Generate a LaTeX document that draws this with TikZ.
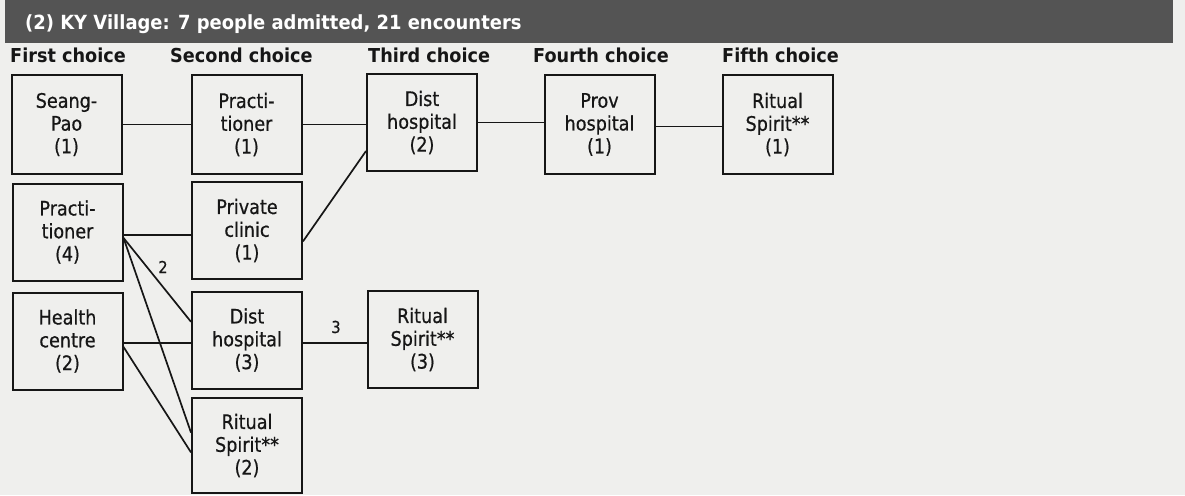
\documentclass[tikz,border=0pt]{standalone}
\usepackage{fontspec}
\setmainfont{DejaVu Sans}
\newfontfamily\boxfont[FakeStretch=0.88,FakeBold=0.6]{DejaVu Sans}
\newfontfamily\headfont[FakeStretch=0.92]{DejaVu Sans}
\definecolor{paper}{RGB}{239,239,237}
\definecolor{barfill}{RGB}{84,84,84}
\definecolor{ink}{RGB}{22,22,22}

\tikzset{
  choice/.style={draw=ink, line width=2pt, minimum width=110pt, minimum height=97pt,
    inner sep=0pt, align=center, text=ink, font=\boxfont\fontsize{20}{22.8}\selectfont},
  heading/.style={anchor=base west, inner sep=0pt, text=ink,
    font=\headfont\bfseries\fontsize{19.2}{21}\selectfont},
  link/.style={draw=ink, line width=1.7pt},
  count/.style={inner sep=0pt, text=ink, font=\boxfont\fontsize{16.5}{18}\selectfont}
}

\begin{document}
\begin{tikzpicture}[x=1pt, y=-1pt]
  \useasboundingbox (0,0) rectangle (1185,495);
  \fill[paper] (0,0) rectangle (1185,495);

  % title bar
  \fill[barfill] (5,0) rectangle (1173,43);
  \node[anchor=base west, inner sep=0pt, text=white,
        font=\headfont\bfseries\fontsize{19.5}{21}\selectfont] (title) at (25,30)
        {(2) KY Village: 7 people admitted, 21 encounters};

  % column headings
  \node[heading] (h1) at (10,63)  {First choice};
  \node[heading] (h2) at (170,63) {Second choice};
  \node[heading] (h3) at (368,63) {Third choice};
  \node[heading] (h4) at (533,63) {Fourth choice};
  \node[heading] (h5) at (722,63) {Fifth choice};

  % first row
  \node[choice, minimum height=99pt] (sp)  at (66.5,124.5)  {Seang-\\Pao\\(1)};
  \node[choice, minimum height=99pt] (pr1) at (246.5,124.5) {Practi-\\tioner\\(1)};
  \node[choice, minimum height=97pt] (dh2) at (422,122.5) {Dist\\hospital\\(2)};
  \node[choice, minimum height=99pt] (ph)  at (599.5,124.5) {Prov\\hospital\\(1)};
  \node[choice, minimum height=99pt] (rs1) at (777.5,124.5) {Ritual\\Spirit**\\(1)};

  % lower rows
  \node[choice] (pr4) at (67.5,232)  {Practi-\\tioner\\(4)};
  \node[choice] (pc)  at (247,230.5) {Private\\clinic\\(1)};
  \node[choice] (hc)  at (67.5,341)  {Health\\centre\\(2)};
  \node[choice] (dh3) at (247,340)   {Dist\\hospital\\(3)};
  \node[choice] (rs3) at (422.5,339.5) {Ritual\\Spirit**\\(3)};
  \node[choice, minimum height=95pt] (rs2) at (247,445.5) {Ritual\\Spirit**\\(2)};

  % connectors, first row
  \draw[link] (sp.east)  -- (pr1.west);
  \draw[link] (pr1.east) -- (pr1.east -| dh2.west);
  \draw[link] (dh2.east) -- (dh2.east -| ph.west);
  \draw[link] (ph.-2)  -- (ph.-2 -| rs1.west);

  % connectors, lower rows
  \draw[link] (pc.-11) -- (dh2.-153);
  \draw[link] (pr4.-3) -- (pr4.-3 -| pc.west);
  \draw[link] (pr4.-6) -- (dh3.162);
  \draw[link] (pr4.-6) -- (rs2.167);
  \draw[link] (hc.-2) -- (hc.-2 -| dh3.west);
  \draw[link] (hc.-6) -- (rs2.-173);
  \draw[link] (dh3.-3) -- (dh3.-3 -| rs3.west);

  % flow counts
  \node[count] (n2) at (163,267) {2};
  \node[count] (n3) at (336,327) {3};
\end{tikzpicture}
\end{document}
